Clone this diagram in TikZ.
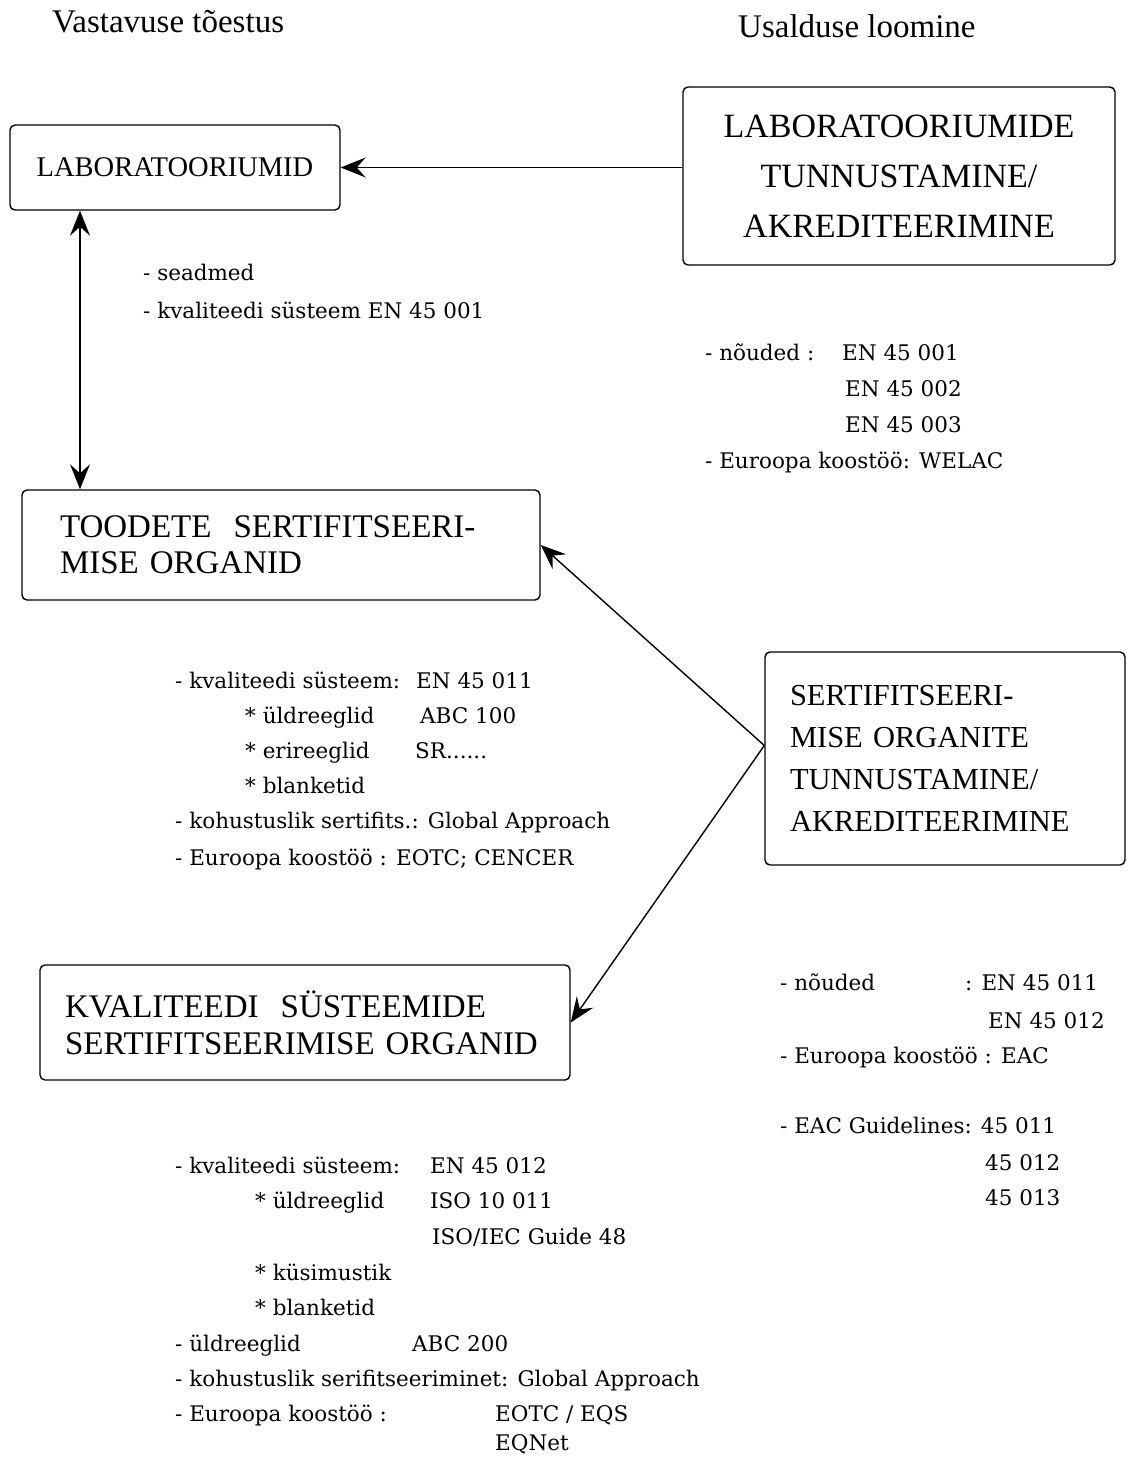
\documentclass[tikz,border=0pt]{standalone}
\usepackage{fontspec}
\setmainfont{Liberation Serif}
\newfontfamily\listfont{DejaVu Serif}
\usetikzlibrary{positioning,arrows.meta}

\begin{document}
\begin{tikzpicture}[x=1pt,y=-1pt,
	conn/.style={line width=1.4pt,-{Stealth[length=25pt,width=20pt,inset=9pt]}},
	dconn/.style={line width=1.4pt,{Stealth[length=25pt,width=20pt,inset=9pt]}-{Stealth[length=25pt,width=20pt,inset=9pt]}},
	box/.style={rectangle,draw,line width=1.4pt,rounded corners=5pt,inner sep=0pt},
	head/.style={anchor=base west,inner sep=0pt,font=\fontsize{33}{36}\selectfont},
	item/.style={anchor=base west,inner sep=0pt,font=\listfont\fontsize{21.5}{26}\selectfont}]
\useasboundingbox (0,0) rectangle (1128,1459);
\node[head](vast) at (52,32){Vastavuse tõestus};
\node[head](usal) at (738,37){Usalduse loomine};
\node[box,minimum width=330pt,minimum height=85pt,font=\fontsize{28.5}{30}\selectfont](lab) at (175,167.5){LABORATOORIUMID};
\node[box,minimum width=432pt,minimum height=178pt,align=center,font=\fontsize{34}{50}\selectfont](acc) at (899,176){LABORATOORIUMIDE\\TUNNUSTAMINE/\\AKREDITEERIMINE};
\node[box,minimum width=518pt,minimum height=110pt,text width=442pt,inner xsep=38pt,align=left,font=\fontsize{33}{36}\selectfont](prod) at (281,545){TOODETE\ \ SERTIFITSEERI-\\MISE ORGANID};
\node[box,minimum width=360pt,minimum height=213pt,text width=310pt,inner xsep=25pt,align=left,font=\fontsize{30.5}{42}\selectfont](sert) at (945,758.5){SERTIFITSEERI-\\MISE ORGANITE\\TUNNUSTAMINE/\\AKREDITEERIMINE};
\node[box,minimum width=530pt,minimum height=115pt,text width=480pt,inner xsep=25pt,align=left,font=\fontsize{33}{37}\selectfont](kval) at (305,1022.5){KVALITEEDI\ \ SÜSTEEMIDE\\SERTIFITSEERIMISE ORGANID};
\coordinate (vx) at (80,0);
\draw[conn](acc.west |- lab.east) -- (lab.east);
\draw[dconn](lab.south -| vx) -- (prod.north -| vx);
\draw[conn]([yshift=13pt]sert.west) -- (prod.east);
\draw[conn]([yshift=13pt]sert.west) -- (kval.east);
% laborid
\node[item](lab1) at (143,280){- seadmed};
\node[item](lab2) at (143,318){- kvaliteedi süsteem EN 45 001};
\node[item](acc1) at (705,360){- nõuded :};
\node[item](acc1v) at (842,360){EN 45 001};
\node[item](acc2) at (845,396){EN 45 002};
\node[item](acc3) at (845,432){EN 45 003};
\node[item](acc4) at (705,468){- Euroopa koostöö: WELAC};
% tooted
\node[item](prod1) at (175,688){- kvaliteedi süsteem:};
\node[item](prod1v) at (416,688){EN 45 011};
\node[item](prod2) at (245,723){* üldreeglid};
\node[item](prod2v) at (420,723){ABC 100};
\node[item](prod3) at (245,758){* erireeglid};
\node[item](prod3v) at (415,758){SR......};
\node[item](prod4) at (245,793){* blanketid};
\node[item](prod5) at (175,828){- kohustuslik sertifits.: Global Approach};
\node[item](prod6) at (175,865){- Euroopa koostöö : EOTC; CENCER};
% sertifitseerimine
\node[item](sert1) at (780,990){- nõuded};
\node[item](sert1v) at (965,990){: EN 45 011};
\node[item](sert2) at (988,1028){EN 45 012};
\node[item](sert3) at (780,1063){- Euroopa koostöö : EAC};
\node[item](sert4) at (780,1133){- EAC Guidelines: 45 011};
\node[item](sert5) at (985,1170){45 012};
\node[item](sert6) at (985,1205){45 013};
% kvaliteedisüsteemid
\node[item](kval1) at (175,1173){- kvaliteedi süsteem:};
\node[item](kval1v) at (430,1173){EN 45 012};
\node[item](kval2) at (255,1208){* üldreeglid};
\node[item](kval2v) at (430,1208){ISO 10 011};
\node[item](kval3) at (432,1244){ISO/IEC Guide 48};
\node[item](kval4) at (255,1280){* küsimustik};
\node[item](kval5) at (255,1315){* blanketid};
\node[item](kval6) at (175,1351){- üldreeglid};
\node[item](kval6v) at (412,1351){ABC 200};
\node[item](kval7) at (175,1386){- kohustuslik serifitseeriminet: Global Approach};
\node[item](kval8) at (175,1421){- Euroopa koostöö :};
\node[item](kval8v) at (495,1421){EOTC / EQS};
\node[item](kval9) at (495,1450){EQNet};
\end{tikzpicture}
\end{document}
